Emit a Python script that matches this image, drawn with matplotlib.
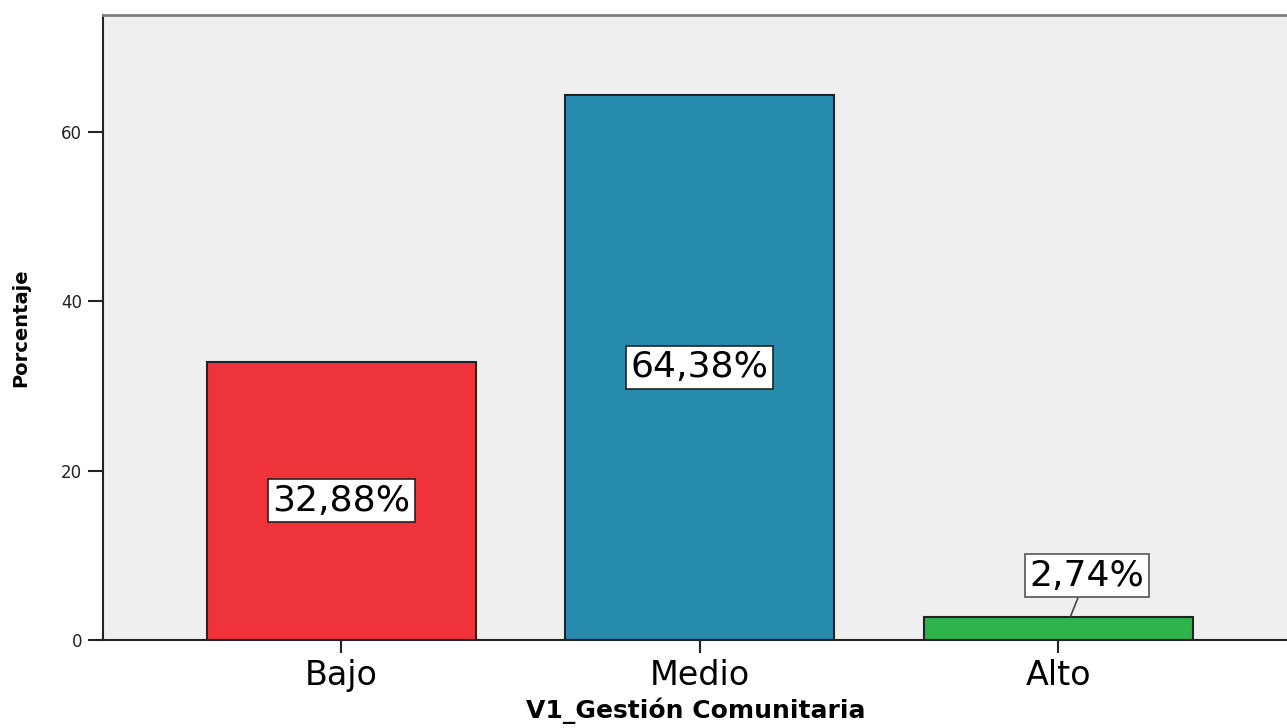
import numpy as np
import matplotlib.pyplot as plt

# data
categories = ['Bajo', 'Medio', 'Alto']
percentages = [32.88, 64.38, 2.74]
bar_colors = ['#EF333A', '#268BAD', '#2DB54B']
value_labels = ['32,88%', '64,38%', '2,74%']

fig = plt.figure(figsize=(12.87, 7.28), dpi=100)
ax = fig.add_axes([0.080, 0.1209, 0.921, 0.8585])
ax.set_facecolor('#EFEFEF')

x = np.arange(len(categories))
ax.bar(x, percentages, width=0.75, color=bar_colors, edgecolor='#222222', linewidth=1.5, zorder=2)

box = dict(boxstyle='square,pad=0.12', facecolor='white', edgecolor='#222222', linewidth=1.2)
for i in range(2):
    ax.text(x[i], percentages[i] / 2, value_labels[i], ha='center', va='center',
            fontsize=26, color='black', bbox=box, zorder=3)

# small bar: label above with leader line
box_alto = dict(box, edgecolor='#555555')
ax.annotate(value_labels[2], xy=(x[2] + 0.034, percentages[2]), xytext=(x[2] + 0.08, 7.6),
            ha='center', va='center', fontsize=26, color='black', bbox=box_alto, zorder=3,
            arrowprops=dict(arrowstyle='-', color='#444444', linewidth=1.2,
                            shrinkA=0, shrinkB=0))

ax.set_xlim(-0.665, 2.642)
ax.set_ylim(0, 73.8)
ax.set_yticks([0, 20, 40, 60])
ax.set_xticks(x)
ax.set_xticklabels(categories, fontsize=24)
ax.tick_params(axis='y', labelsize=12, length=11, width=1.5, pad=4, color='#222222',
               labelcolor='#222222')
ax.tick_params(axis='x', length=9, width=1.5, pad=5, color='#222222')

ax.spines['right'].set_visible(False)
ax.spines['top'].set_color('#808080')
ax.spines['top'].set_linewidth(2)
ax.spines['left'].set_color('#222222')
ax.spines['left'].set_linewidth(1.5)
ax.spines['bottom'].set_color('#222222')
ax.spines['bottom'].set_linewidth(1.5)

ax.set_xlabel('V1_Gestión Comunitaria', fontsize=18, fontweight='bold', labelpad=4)
ax.set_ylabel('Porcentaje', fontsize=14, fontweight='bold', labelpad=22)

fig.savefig('out.png', dpi=100)
